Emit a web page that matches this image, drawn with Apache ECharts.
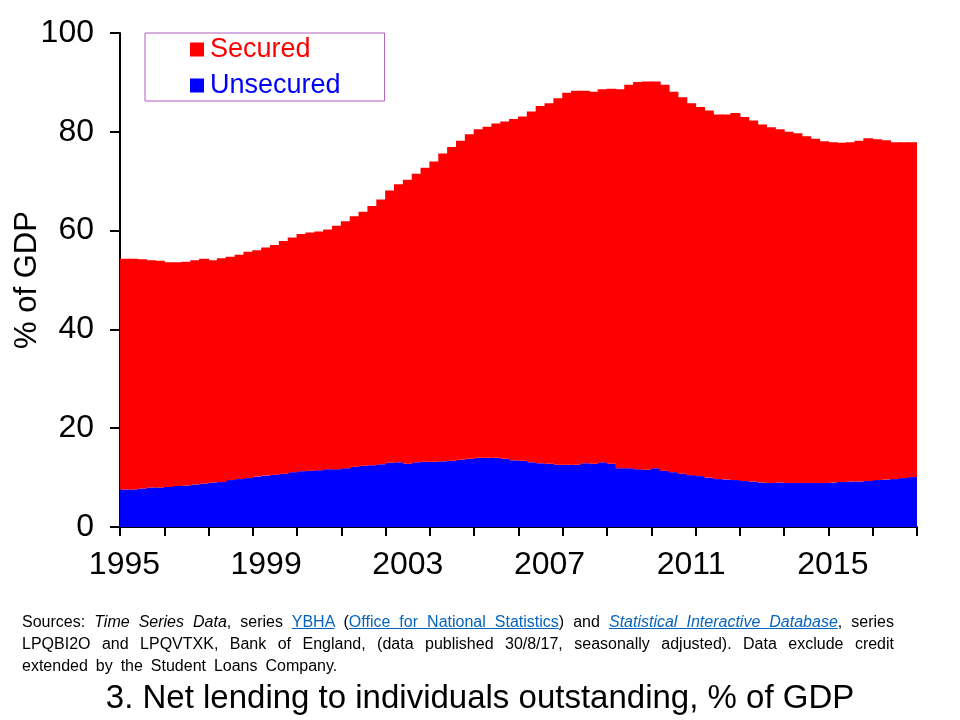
<!DOCTYPE html>
<html>
<head>
<meta charset="utf-8">
<script src="https://cdn.jsdelivr.net/npm/echarts@6/dist/echarts.min.js"></script>
<style>
  html, body { margin: 0; padding: 0; background: #fff; }
  #wrap { position: relative; width: 960px; height: 720px; }
  #chart { width: 960px; height: 720px; }
  #notes {
    position: absolute; left: 22px; top: 611px; width: 872px;
    font-family: 'Liberation Sans', Arial, sans-serif;
    font-size: 16px; line-height: 22px; color: #000;
  }
  #notes div { text-align: justify; text-align-last: justify; white-space: nowrap; }
  #notes div.last { text-align-last: left; word-spacing: 3.5px; }
  #notes a { color: #0563c1; text-decoration: underline; }
</style>
</head>
<body>
<div id="wrap">
  <div id="chart"></div>
  <div id="notes">
    <div>Sources: <i>Time Series Data</i>, series <a>YBHA</a> (<a>Office for National Statistics</a>) and <a><i>Statistical Interactive Database</i></a>, series</div>
    <div>LPQBI2O and LPQVTXK, Bank of England, (data published 30/8/17, seasonally adjusted). Data exclude credit</div>
    <div class="last">extended by the Student Loans Company.</div>
  </div>
</div>
<script>
// quarterly, 1995 Q1 .. 2017 Q2
const startYear = 1995;
const quarterCount = 90;
const quarters = [];
for (let i = 0; i < quarterCount; i++) {
  quarters.push((startYear + Math.floor(i / 4)) + ' Q' + (i % 4 + 1));
}

// % of GDP
const unsecured = [
  7.6, 7.6, 7.8, 8.0, 8.0, 8.1, 8.3, 8.4, 8.6, 8.8,
  9.0, 9.1, 9.5, 9.7, 9.9, 10.2, 10.4, 10.6, 10.8, 11.1,
  11.3, 11.4, 11.5, 11.7, 11.7, 11.9, 12.2, 12.4, 12.5, 12.7,
  13.0, 13.1, 12.8, 13.1, 13.2, 13.2, 13.3, 13.4, 13.6, 13.8,
  14.0, 14.0, 14.0, 13.8, 13.5, 13.4, 13.1, 12.9, 12.8, 12.6,
  12.6, 12.6, 12.9, 12.8, 13.1, 12.8, 11.9, 11.9, 11.7, 11.6,
  11.9, 11.4, 11.1, 10.8, 10.5, 10.3, 10.0, 9.7, 9.6, 9.5,
  9.3, 9.2, 9.0, 8.9, 9.0, 8.9, 8.9, 8.9, 8.9, 8.9,
  9.0, 9.1, 9.2, 9.2, 9.3, 9.5, 9.6, 9.7, 9.9, 10.1
];
const secured = [
  46.7, 46.7, 46.4, 46.0, 45.9, 45.5, 45.3, 45.3, 45.4, 45.5,
  45.0, 45.3, 45.2, 45.4, 45.8, 45.8, 46.2, 46.5, 47.1, 47.5,
  48.0, 48.2, 48.3, 48.5, 49.3, 50.0, 50.7, 51.4, 52.5, 53.6,
  55.1, 56.3, 57.5, 58.4, 59.5, 60.8, 62.3, 63.5, 64.6, 65.7,
  66.5, 67.0, 67.7, 68.3, 69.1, 69.7, 71.0, 72.3, 73.0, 74.2,
  75.3, 75.7, 75.4, 75.3, 75.5, 75.9, 76.7, 77.6, 78.4, 78.6,
  78.3, 78.1, 77.0, 76.2, 75.3, 74.7, 74.3, 73.8, 73.9, 74.3,
  73.7, 73.1, 72.5, 72.0, 71.5, 71.1, 70.8, 70.2, 69.7, 69.2,
  68.9, 68.7, 68.7, 69.0, 69.4, 69.0, 68.7, 68.2, 68.0, 67.8
];

const FONT = "'Liberation Sans', Arial, sans-serif";
const RED = '#ff0000';
const BLUE = '#0000ff';

const chart = echarts.init(document.getElementById('chart'), null, { renderer: 'canvas' });

chart.setOption({
  animation: false,
  backgroundColor: '#fff',
  textStyle: { fontFamily: FONT },
  title: {
    text: '3. Net lending to individuals outstanding, % of GDP',
    left: 'center',
    top: 677,
    textStyle: { fontFamily: FONT, fontSize: 33, fontWeight: 'normal', color: '#000' }
  },
  legend: {
    orient: 'vertical',
    left: 145,
    top: 33,
    padding: [3, 44, 2, 45],
    itemGap: 9,
    itemWidth: 14,
    itemHeight: 14,
    icon: 'rect',
    borderColor: '#b05cc0',
    borderWidth: 1,
    backgroundColor: '#fff',
    selectedMode: false,
    data: [
      { name: 'Secured', textStyle: { color: RED } },
      { name: 'Unsecured', textStyle: { color: BLUE } }
    ],
    textStyle: { fontSize: 27, fontFamily: FONT, padding: [0, 0, 0, 1] }
  },
  grid: { left: 120, right: 43, top: 33, bottom: 193, containLabel: false, outerBoundsMode: 'none' },
  xAxis: {
    type: 'category',
    data: quarters,
    boundaryGap: true,
    axisLine: { lineStyle: { color: '#000', width: 2 } },
    axisTick: { show: true, interval: 4, length: 9, lineStyle: { color: '#000', width: 2 } },
    axisLabel: {
      interval: 15,
      margin: 22,
      fontSize: 32,
      color: '#000',
      formatter: v => v.slice(0, 4)
    },
    splitLine: { show: false }
  },
  yAxis: {
    type: 'value',
    min: 0,
    max: 100,
    interval: 20,
    name: '% of GDP',
    nameLocation: 'middle',
    nameGap: 77,
    nameMoveOverlap: false,
    nameTextStyle: { fontSize: 31, color: '#000' },
    axisLine: { show: true, lineStyle: { color: '#000', width: 2 } },
    axisTick: { show: true, length: 10, lineStyle: { color: '#000', width: 2 } },
    axisLabel: { fontSize: 32, color: '#000', margin: 26 },
    splitLine: { show: false }
  },
  series: [
    {
      name: 'Unsecured',
      type: 'bar',
      stack: 'total',
      data: unsecured,
      barWidth: '112%',
      itemStyle: { color: BLUE }
    },
    {
      name: 'Secured',
      type: 'bar',
      stack: 'total',
      data: secured,
      barWidth: '112%',
      itemStyle: { color: RED }
    }
  ]
});
</script>
</body>
</html>
